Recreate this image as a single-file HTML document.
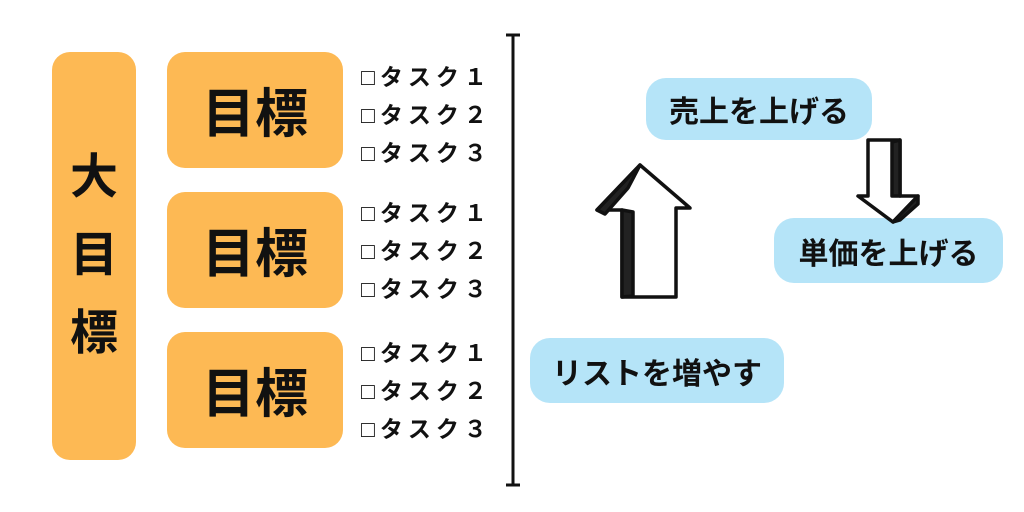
<!DOCTYPE html>
<html><head><meta charset="utf-8"><style>
body{margin:0;width:1024px;height:512px;background:#fff;position:relative;overflow:hidden;font-family:"Liberation Sans","Noto Sans CJK JP",sans-serif;font-weight:bold;color:#111}
.o{position:absolute;background:#FDB954;border-radius:18px;display:flex;align-items:center;justify-content:center}
.g{font-size:53px}
.t{position:absolute;left:361px;font-size:23px;line-height:38px;letter-spacing:5px}
.b{position:absolute;background:#B5E4F8;border-radius:20px;display:flex;align-items:center;justify-content:center;font-size:30px}
</style></head><body>
<div class="o" style="left:52px;top:52px;width:84px;height:408px;flex-direction:column;font-size:48px;line-height:78px">大<br>目<br>標</div>
<div class="o g" style="left:167px;top:52px;width:176px;height:116px">目標</div>
<div class="o g" style="left:167px;top:192px;width:176px;height:116px">目標</div>
<div class="o g" style="left:167px;top:332px;width:176px;height:116px">目標</div>
<div class="t" style="top:58px">□タスク１<br>□タスク２<br>□タスク３</div>
<div class="t" style="top:194px">□タスク１<br>□タスク２<br>□タスク３</div>
<div class="t" style="top:334px">□タスク１<br>□タスク２<br>□タスク３</div>
<div class="b" style="left:646px;top:78px;width:226px;height:62px">売上を上げる</div>
<div class="b" style="left:774px;top:218px;width:229px;height:65px">単価を上げる</div>
<div class="b" style="left:530px;top:338px;width:254px;height:65px">リストを増やす</div>
<svg style="position:absolute;left:0;top:0" width="1024" height="512">
<g stroke="#111" stroke-width="3" fill="none">
<line x1="513" y1="34" x2="513" y2="486"/><line x1="506" y1="35" x2="520" y2="35"/><line x1="506" y1="485" x2="520" y2="485"/>
</g>
<g stroke="#111" stroke-width="3.5" stroke-linejoin="round">
<polygon points="640,165 597,210 622,210 622,297 676,297 676,208 690,208" fill="#fff"/>
<polygon points="622,210 633,212 633,296 622,297" fill="#222"/>
<polygon points="640,165 597,210 605,214 628,188" fill="#222"/>
<polygon points="868,140 900,140 900,196 918,196 893,222 858,196 868,196" fill="#fff"/>
<polygon points="892,142 900,140 900,196 892,196" fill="#222"/>
<polygon points="918,196 893,222 900,220 918,204" fill="#222"/>
</g>
</svg>
</body></html>
